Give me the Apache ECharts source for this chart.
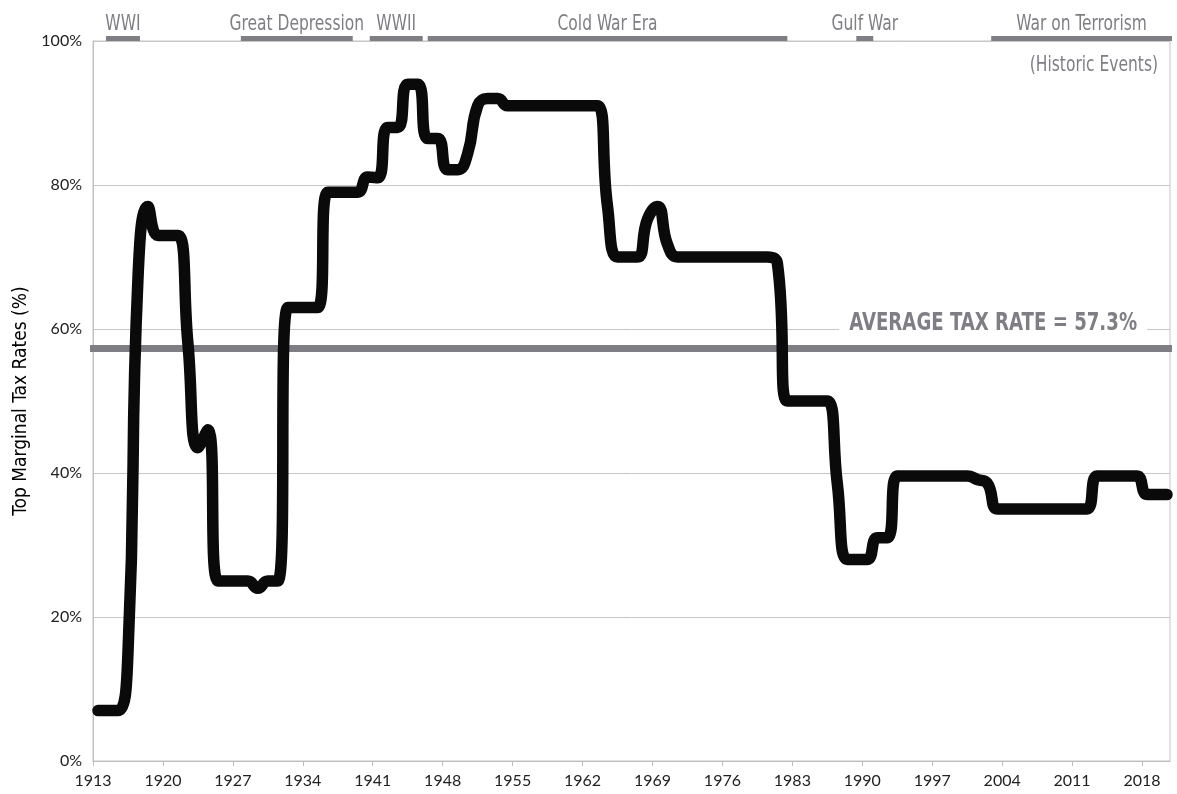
<!DOCTYPE html>
<html>
<head>
<meta charset="utf-8">
<script src="https://cdn.jsdelivr.net/npm/echarts@6/dist/echarts.min.js"></script>
<style>
html, body { margin: 0; padding: 0; background: #fff; }
#main { width: 1177px; height: 794px; }
</style>
</head>
<body>
<div id="main"></div>
<script>
// top marginal tax rates, one value per year starting 1913
var startYear = 1913;
var topRates = [
    7, 7, 7, 15, 67, 77, 73, 73, 73, 58,            // 1913-1922
    43.5, 46, 25, 25, 25, 25, 24, 25, 25, 63,        // 1923-1932
    63, 63, 63, 79, 79, 79, 79, 81.1, 81, 88,        // 1933-1942
    88, 94, 94, 86.45, 86.45, 82.13, 82.13, 84.36, 91, 92, // 1943-1952
    92, 91, 91, 91, 91, 91, 91, 91, 91, 91,          // 1953-1962
    91, 77, 70, 70, 70, 75.25, 77, 71.75, 70, 70,    // 1963-1972
    70, 70, 70, 70, 70, 70, 70, 70, 69.13, 50,       // 1973-1982
    50, 50, 50, 50, 38.5, 28, 28, 28, 31, 31,        // 1983-1992
    39.6, 39.6, 39.6, 39.6, 39.6, 39.6, 39.6, 39.6, 39.1, 38.6, // 1993-2002
    35, 35, 35, 35, 35, 35, 35, 35, 35, 35,          // 2003-2012
    39.6, 39.6, 39.6, 39.6, 39.6, 37, 37, 37         // 2013-2020
];
var averageRate = 57.3;
var tickYears = [1913, 1920, 1927, 1934, 1941, 1948, 1955, 1962, 1969, 1976, 1983, 1990, 1997, 2004, 2011, 2018];

// historic events shown above the plot
var eventNames = ['WWI', 'Great Depression', 'WWII', 'Cold War Era', 'Gulf War', 'War on Terrorism'];
var eventStart = [1914.3, 1927.8, 1940.7, 1946.5, 1989.4, 2002.9];
var eventEnd   = [1917.7, 1939.0, 1946.0, 1982.5, 1991.1, 2021.0];

var gray = '#807e85';
var narrow = "'DejaVu Sans Condensed', 'Liberation Sans Narrow', sans-serif";
var squeeze = 0.82;

var rateData = topRates.map(function (v, i) {
    return [startYear + i + 0.5, v];
});
var eventData = eventNames.map(function (n, i) {
    return [eventStart[i], eventEnd[i], 100];
});

var myChart = echarts.init(document.getElementById('main'));

option = {
    animation: false,
    grid: {
        left: 93,
        right: 7,
        top: 41,
        bottom: 33,
        show: true,
        borderColor: '#c4c4c4',
        borderWidth: 1,
        outerBoundsMode: 'none'
    },
    xAxis: {
        type: 'value',
        min: 1913,
        max: 2020.8,
        interval: 7,
        axisLine: { lineStyle: { color: '#bdbdbd' } },
        axisTick: { customValues: tickYears, length: 5, lineStyle: { color: '#bdbdbd' } },
        axisLabel: {
            customValues: tickYears,
            formatter: function (v) { return String(v); },
            color: '#222',
            fontSize: 16,
            fontFamily: 'Lato',
            margin: 12
        },
        splitLine: { show: false }
    },
    yAxis: {
        type: 'value',
        min: 0,
        max: 100,
        interval: 20,
        name: 'Top Marginal Tax Rates (%)',
        nameLocation: 'middle',
        nameGap: 62,
        nameTextStyle: { fontFamily: narrow, fontSize: 19, color: '#000' },
        axisLine: { show: true, lineStyle: { color: '#bdbdbd' } },
        axisTick: { show: false },
        axisLabel: {
            formatter: '{value}%',
            color: '#222',
            fontSize: 16,
            fontFamily: 'Lato',
            margin: 11
        },
        splitLine: { lineStyle: { color: '#c6c6c6' } }
    },
    graphic: [{
        type: 'text',
        x: 1158,
        y: 66,
        scaleX: squeeze,
        style: {
            text: '(Historic Events)',
            x: 0,
            y: 0,
            align: 'right',
            verticalAlign: 'middle',
            fill: gray,
            fontSize: 21,
            fontFamily: narrow
        }
    }],
    series: [
        {
            name: 'Average',
            type: 'line',
            clip: false,
            symbol: 'none',
            silent: true,
            z: 2,
            lineStyle: { color: gray, width: 7 },
            data: [[1912.7, averageRate], [2021, averageRate]]
        },
        {
            name: 'Average label',
            type: 'custom',
            silent: true,
            z: 2,
            encode: { x: 0, y: 1 },
            renderItem: function (params, api) {
                var p = api.coord([api.value(0), api.value(1)]);
                return {
                    type: 'group',
                    children: [
                        {
                            type: 'rect',
                            shape: { x: p[0] - 154, y: p[1] - 13, width: 308, height: 26 },
                            style: { fill: '#fff' }
                        },
                        {
                            type: 'text',
                            x: p[0],
                            y: p[1],
                            scaleX: 0.84,
                            style: {
                                text: 'AVERAGE TAX RATE = ' + averageRate + '%',
                                x: 0,
                                y: 1,
                                align: 'center',
                                verticalAlign: 'middle',
                                fill: gray,
                                fontSize: 24,
                                fontWeight: 'bold',
                                fontFamily: narrow
                            }
                        }
                    ]
                };
            },
            data: [[2003.1, 60.9]]
        },
        {
            name: 'Top rate',
            type: 'line',
            symbol: 'none',
            smooth: 0.5,
            z: 3,
            lineStyle: { color: '#0a0a0a', width: 11.5, cap: 'round', join: 'round' },
            data: rateData
        },
        {
            name: 'Events',
            type: 'custom',
            clip: false,
            silent: true,
            encode: { x: [0, 1], y: 2 },
            renderItem: function (params, api) {
                var a = api.coord([api.value(0), api.value(2)]);
                var b = api.coord([api.value(1), api.value(2)]);
                return {
                    type: 'group',
                    children: [
                        {
                            type: 'rect',
                            shape: { x: a[0], y: a[1] - 5, width: b[0] - a[0], height: 5 },
                            style: { fill: gray }
                        },
                        {
                            type: 'text',
                            x: (a[0] + b[0]) / 2,
                            y: a[1] - 6,
                            scaleX: squeeze,
                            style: {
                                text: eventNames[params.dataIndex],
                                x: 0,
                                y: 0,
                                align: 'center',
                                verticalAlign: 'bottom',
                                fill: gray,
                                fontSize: 21,
                                fontFamily: narrow
                            }
                        }
                    ]
                };
            },
            data: eventData
        }
    ]
};

myChart.setOption(option);
</script>
</body>
</html>
